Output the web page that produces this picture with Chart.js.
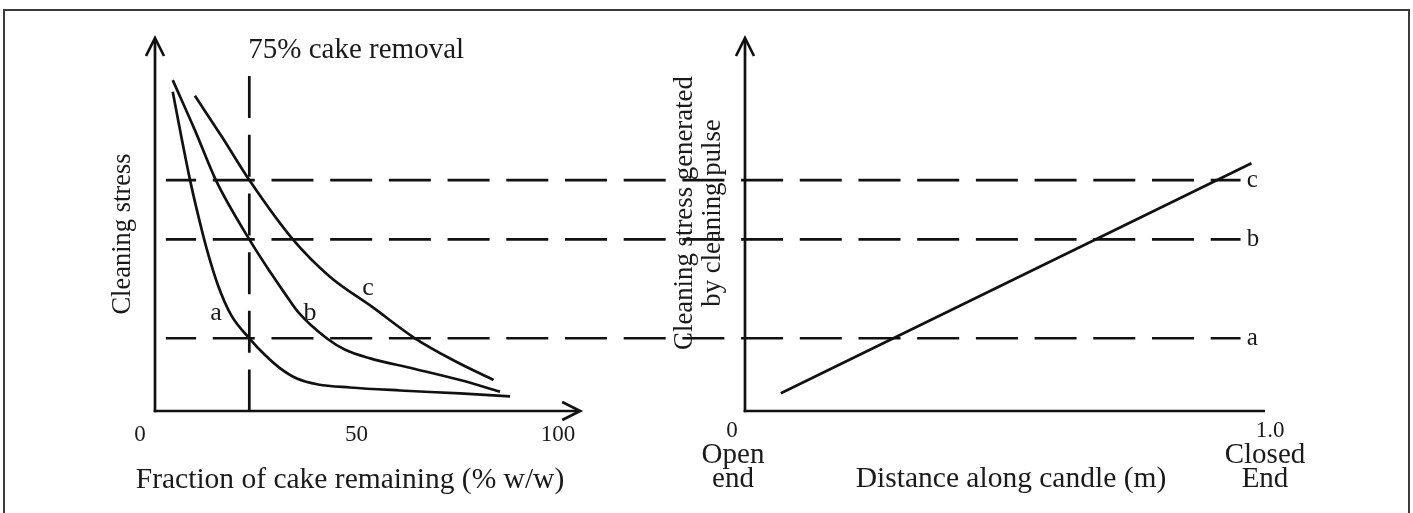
<!DOCTYPE html>
<html>
<head>
<meta charset="utf-8">
<script src="https://cdn.jsdelivr.net/npm/chart.js@4/dist/chart.umd.min.js"></script>
<style>
  html, body { margin: 0; padding: 0; background: #fff; }
  #wrap { position: relative; width: 1413px; height: 513px; overflow: hidden; }
  #frame { position: absolute; left: 3px; top: 9px; width: 1407px; height: 520px;
           border: 2px solid #3a3a3a; box-sizing: border-box; }
  canvas { position: absolute; left: 0; top: 0; }
</style>
</head>
<body>
<div id="wrap">
  <div id="frame"></div>
  <canvas id="c" width="1413" height="513"></canvas>
</div>
<script>
// Left panel: cleaning stress against fraction of cake remaining (% w/w)
const fracA   = [4.4, 6.7, 8.7, 10.7, 12.9, 15.6, 18.9, 23.4, 27.3, 31.0, 35.2, 40.5, 48.4, 60.8, 75.7, 88.1];
const stressA = [85.6, 72.6, 61.9, 52.5, 43.2, 33.8, 25.7, 19.5, 15.0, 11.5, 8.7, 7.1, 6.3, 5.5, 4.7, 3.9];

const fracB   = [4.4, 9.9, 15.1, 23.4, 28.8, 32.8, 35.7, 42.6, 47.2, 53.4, 64.0, 75.7, 85.6];
const stressB = [88.7, 75.3, 61.9, 46.0, 36.9, 30.6, 26.3, 19.5, 16.4, 14.1, 11.4, 8.3, 5.2];

const fracC   = [9.9, 16.6, 23.4, 34.2, 43.4, 53.9, 64.5, 74.4, 84.0];
const stressC = [84.5, 73.5, 61.9, 46.0, 36.0, 27.9, 19.5, 13.4, 8.3];

// 75 % cake removal line (fraction remaining) and its top end
const removalFrac = 23.4;
const removalTop = 89.8;

// Stress levels a, b, c shared by both panels
const levelNames  = ['a', 'b', 'c'];
const levelStress = [19.5, 46.0, 61.9];

// Right panel: stress generated by the cleaning pulse along the candle
const distance    = [0.069, 0.974];
const pulseStress = [4.75, 66.4];

// Tick labels
const leftTicks  = [0, 50, 100];
const rightTicks = [0, 1.0];
const rightTickText = ['0', '1.0'];

const INK = '#111';
const SERIF = '"Liberation Serif", "Times New Roman", serif';

function pts(xs, ys) { return xs.map((x, i) => ({ x: x, y: ys[i] })); }

function curve(xs, ys) {
  return {
    data: pts(xs, ys), xAxisID: 'xL', yAxisID: 'y',
    borderColor: INK, borderWidth: 2.7, pointRadius: 0,
    cubicInterpolationMode: 'monotone', fill: false
  };
}

function text(ctx, s, x, y, size, align) {
  ctx.font = size + 'px ' + SERIF;
  ctx.textAlign = align || 'center';
  ctx.textBaseline = 'alphabetic';
  ctx.fillText(s, x, y);
}

function vtext(ctx, s, x, y, size) {
  ctx.save();
  ctx.translate(x, y);
  ctx.rotate(-Math.PI / 2);
  ctx.font = size + 'px ' + SERIF;
  ctx.textAlign = 'center';
  ctx.textBaseline = 'middle';
  ctx.fillText(s, 0, 0);
  ctx.restore();
}

function seg(ctx, x1, y1, x2, y2) {
  ctx.beginPath(); ctx.moveTo(x1, y1); ctx.lineTo(x2, y2); ctx.stroke();
}

function arrowHead(ctx, tx, ty, dir) {
  // open chevron; dir 'up' or 'right'
  const L = 18, W = 9;
  ctx.beginPath();
  if (dir === 'up') {
    ctx.moveTo(tx - W, ty + L); ctx.lineTo(tx, ty); ctx.lineTo(tx + W, ty + L);
  } else {
    ctx.moveTo(tx - L, ty - W); ctx.lineTo(tx, ty); ctx.lineTo(tx - L, ty + W);
  }
  ctx.stroke();
}

const diagram = {
  id: 'diagram',
  beforeDatasetsDraw(chart) {
    const { ctx } = chart;
    const xL = chart.scales.xL, xR = chart.scales.xR, y = chart.scales.y;
    ctx.save();
    ctx.strokeStyle = INK;
    ctx.lineWidth = 2.7;
    ctx.lineCap = 'butt';
    // dashed stress levels running across both panels
    ctx.setLineDash([42, 16.7]);
    ctx.lineDashOffset = 11.8;
    const xs = xL.getPixelForValue(2.7), xe = xR.getPixelForValue(0.953);
    levelStress.forEach(v => {
      const py = y.getPixelForValue(v);
      seg(ctx, xs, py, xe, py);
    });
    ctx.restore();
  },
  afterDatasetsDraw(chart) {
    const { ctx } = chart;
    const xL = chart.scales.xL, xR = chart.scales.xR, y = chart.scales.y;
    const y0 = y.getPixelForValue(0), yTop = y.getPixelForValue(100);
    const l0 = xL.getPixelForValue(0), lEnd = xL.getPixelForValue(105.5);
    const r0 = xR.getPixelForValue(0), r1 = xR.getPixelForValue(1.0);

    ctx.save();
    ctx.strokeStyle = INK;
    ctx.lineWidth = 2.7;
    ctx.setLineDash([]);
    ctx.lineJoin = 'miter';
    // left axes with arrows
    seg(ctx, l0, y0 + 1.3, l0, yTop + 1);
    seg(ctx, l0 - 1.3, y0, lEnd - 1, y0);
    arrowHead(ctx, l0, yTop, 'up');
    arrowHead(ctx, lEnd, y0, 'right');
    // right axes
    seg(ctx, r0, y0 + 1.3, r0, yTop + 1);
    seg(ctx, r0 - 1.3, y0, r1, y0);
    arrowHead(ctx, r0, yTop, 'up');

    // text
    ctx.fillStyle = '#1a1a1a';
    text(ctx, '75% cake removal', xL.getPixelForValue(removalFrac) - 1, 58, 29, 'left');

    leftTicks.forEach((t, i) => {
      const off = i === 0 ? -15 : 0;
      text(ctx, String(t), xL.getPixelForValue(t) + off, 441, 23);
    });
    text(ctx, 'Fraction of cake remaining (% w/w)', 350, 488, 29.5);
    vtext(ctx, 'Cleaning stress', 123, 234, 26.5);

    text(ctx, rightTickText[0], xR.getPixelForValue(rightTicks[0]) - 13, 437, 23);
    text(ctx, rightTickText[1], xR.getPixelForValue(rightTicks[1]) + 5, 437, 23);
    text(ctx, 'Open', r0 - 12, 463, 29);
    text(ctx, 'end', r0 - 12, 487, 29);
    text(ctx, 'Closed', r1, 463, 29);
    text(ctx, 'End', r1, 487, 29);
    text(ctx, 'Distance along candle (m)', 1011, 487, 29.5);
    vtext(ctx, 'Cleaning stress generated', 685, 213, 26.8);
    vtext(ctx, 'by cleaning pulse', 713, 213, 26.8);

    // curve labels
    text(ctx, 'a', 216, 320, 26);
    text(ctx, 'b', 310, 320, 26);
    text(ctx, 'c', 368, 295, 26);
    // level labels on the right
    const lblX = xR.getPixelForValue(0.965);
    levelNames.forEach((n, i) => {
      text(ctx, n, lblX, y.getPixelForValue(levelStress[i]) + 7, 25, 'left');
    });
    ctx.restore();
  }
};

new Chart(document.getElementById('c'), {
  type: 'line',
  data: {
    datasets: [
      curve(fracA, stressA),
      curve(fracB, stressB),
      curve(fracC, stressC),
      {
        data: pts([removalFrac, removalFrac], [removalTop, 0]),
        xAxisID: 'xL', yAxisID: 'y',
        borderColor: INK, borderWidth: 2.7, pointRadius: 0,
        borderDash: [42, 16.7], fill: false
      },
      {
        data: pts(distance, pulseStress),
        xAxisID: 'xR', yAxisID: 'y',
        borderColor: INK, borderWidth: 2.7, pointRadius: 0, fill: false
      }
    ]
  },
  options: {
    responsive: false,
    animation: false,
    devicePixelRatio: 1,
    events: [],
    layout: { padding: { left: 155, right: 148, top: 38, bottom: 102 } },
    plugins: { legend: { display: false }, tooltip: { enabled: false }, title: { display: false } },
    scales: {
      xL: { type: 'linear', axis: 'x', min: 0, max: 275.43, display: false },
      xR: { type: 'linear', axis: 'x', min: -1.1346, max: 1.0, display: false },
      y:  { type: 'linear', axis: 'y', min: 0, max: 100, display: false }
    }
  },
  plugins: [diagram]
});
</script>
</body>
</html>
